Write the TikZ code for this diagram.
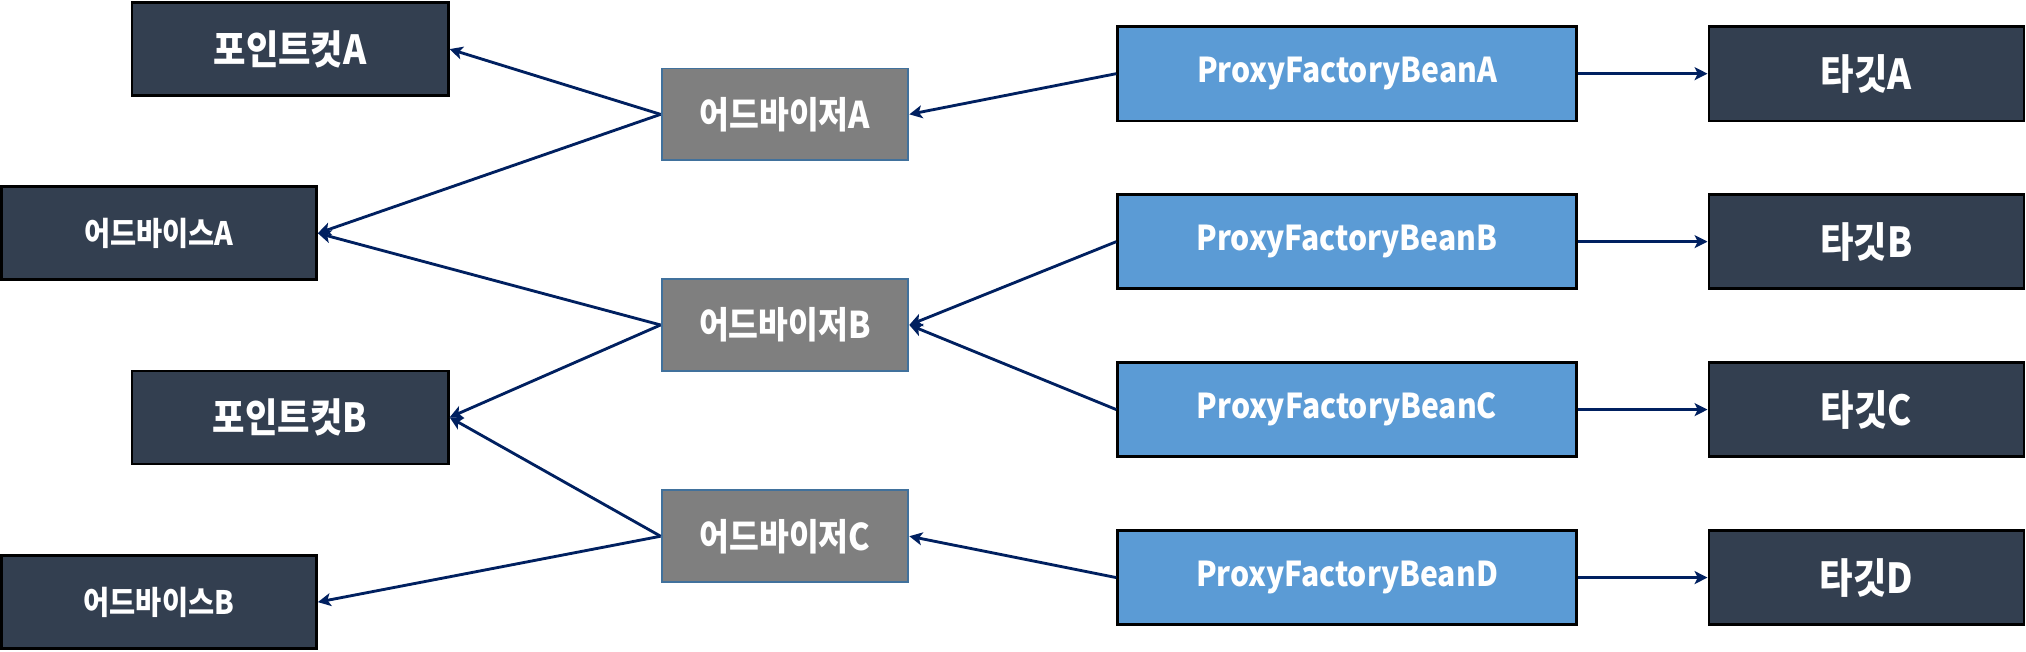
\documentclass[tikz,border=0pt]{standalone}
\usepackage{fontspec}
\newfontfamily\kr{Noto Sans CJK KR}[FakeStretch=0.88]
\usetikzlibrary{arrows.meta}
\definecolor{darkbox}{HTML}{333F50}
\definecolor{bluebox}{HTML}{5B9BD5}
\definecolor{graybox}{HTML}{7F7F7F}
\definecolor{grayedge}{HTML}{41719C}
\definecolor{arrowc}{HTML}{002060}
\tikzset{
  darknode/.style={rectangle, fill=darkbox, draw=black, line width=2pt, inner sep=0pt, text=white, font=\kr\bfseries},
  pfbnode/.style={rectangle, fill=bluebox, draw=black, line width=2pt, inner sep=0pt, text=white, minimum width=355pt, minimum height=73pt, font=\kr\bfseries\fontsize{26.5}{30}\selectfont},
  advnode/.style={rectangle, fill=graybox, draw=grayedge, line width=1.5pt, inner sep=0pt, text=white, minimum width=191pt, minimum height=71pt, font=\kr\bfseries\fontsize{28.5}{32}\selectfont},
  pcnode/.style={darknode, minimum width=245pt, minimum height=72pt, font=\kr\bfseries\fontsize{31}{34}\selectfont},
  advicenode/.style={darknode, minimum width=244pt, minimum height=72pt, font=\kr\bfseries\fontsize{25}{28}\selectfont},
  tgtnode/.style={darknode, minimum width=244pt, minimum height=73pt, font=\kr\bfseries\fontsize{32}{35}\selectfont},
  arr/.style={draw=arrowc, line width=2.2pt, -{Stealth[length=10pt,width=10pt,inset=2.5pt]}}
}
\begin{document}
\begin{tikzpicture}[x=1pt,y=-1pt]
\useasboundingbox (0,0) rectangle (1568,504);
\fill[white] (0,0) rectangle (1568,504);
% left column
\node[pcnode] (pcA) at (224.5,38) {포인트컷A};
\node[advicenode] (adA) at (123,180.5) {어드바이스A};
\node[pcnode] (pcB) at (224.5,323) {포인트컷B};
\node[advicenode] (adB) at (123,466) {어드바이스B};
% advisors
\node[advnode] (avA) at (607.5,88.5) {어드바이저A};
\node[advnode] (avB) at (607.5,251.5) {어드바이저B};
\node[advnode] (avC) at (607.5,415) {어드바이저C};
% proxy factory beans
\node[pfbnode] (pfA) at (1042.5,57) {ProxyFactoryBeanA};
\node[pfbnode] (pfB) at (1042.5,187) {ProxyFactoryBeanB};
\node[pfbnode] (pfC) at (1042.5,317) {ProxyFactoryBeanC};
\node[pfbnode] (pfD) at (1042.5,447) {ProxyFactoryBeanD};
% targets
\node[tgtnode] (tA) at (1444.5,57) {타깃A};
\node[tgtnode] (tB) at (1444.5,187) {타깃B};
\node[tgtnode] (tC) at (1444.5,317) {타깃C};
\node[tgtnode] (tD) at (1444.5,447) {타깃D};
% connectors
\draw[arr] (avA.west) -- (pcA.east);
\draw[arr] (avA.west) -- (adA.east);
\draw[arr] (avB.west) -- (adA.east);
\draw[arr] (avB.west) -- (pcB.east);
\draw[arr] (avC.west) -- (pcB.east);
\draw[arr] (avC.west) -- (adB.east);
\draw[arr] (pfA.west) -- (avA.east);
\draw[arr] (pfB.west) -- (avB.east);
\draw[arr] (pfC.west) -- (avB.east);
\draw[arr] (pfD.west) -- (avC.east);
\draw[arr] (pfA.east) -- (tA.west);
\draw[arr] (pfB.east) -- (tB.west);
\draw[arr] (pfC.east) -- (tC.west);
\draw[arr] (pfD.east) -- (tD.west);
\end{tikzpicture}
\end{document}
